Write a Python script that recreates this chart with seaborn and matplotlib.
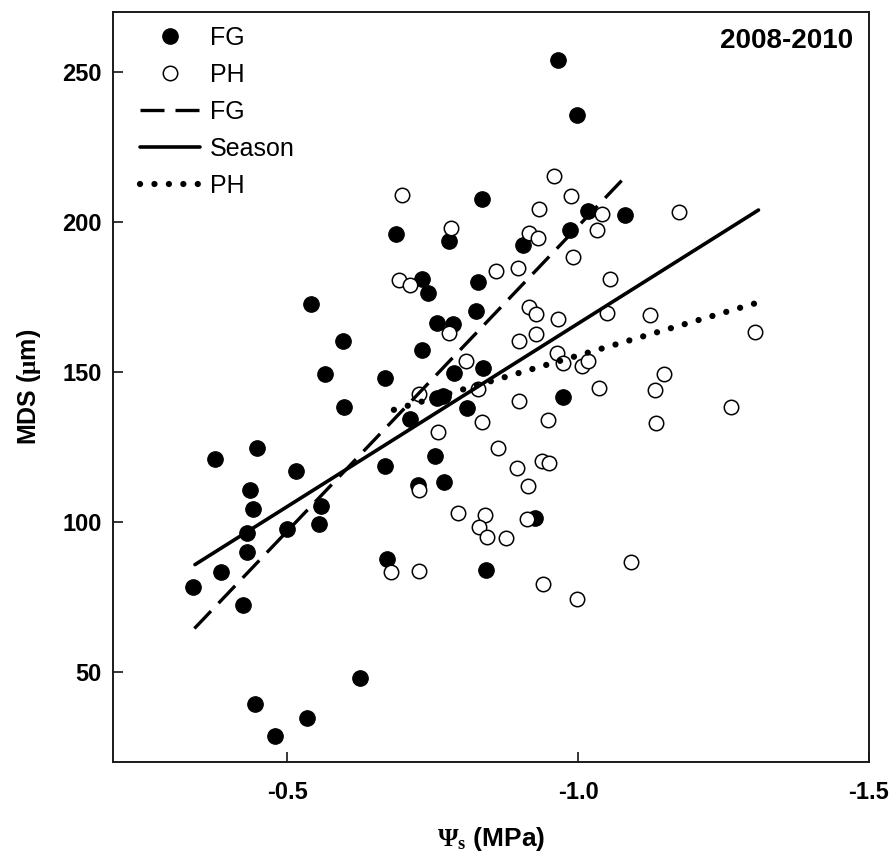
import numpy as np
import pandas as pd
import matplotlib
matplotlib.use("Agg")
import matplotlib.pyplot as plt
from matplotlib.lines import Line2D
import seaborn as sns

# ---- data ----
fg_x = [-0.541, -0.596, -0.564, -0.668, -0.598, -0.448, -0.375, -0.515, -0.668, -0.435,
        -0.440, -0.430, -0.500, -0.557, -0.555, -0.431, -0.385, -0.338, -0.423, -0.672,
        -0.624, -0.445, -0.533, -0.479, -0.835, -0.687, -0.778, -0.905, -1.017, -1.081,
        -0.986, -0.732, -0.742, -0.828, -0.825, -0.758, -0.785, -0.732, -0.787, -0.837,
        -0.974, -0.809, -0.768, -0.758, -0.711, -0.754, -0.725, -0.770, -0.926, -0.842,
        -0.966, -0.998]
fg_y = [172.6, 160.4, 149.5, 147.9, 138.3, 124.7, 121.1, 117.1, 118.8, 110.8,
        104.5, 96.3, 97.6, 105.5, 99.3, 90.0, 83.4, 78.4, 72.5, 87.7,
        48.0, 39.4, 34.8, 28.8, 207.7, 196.1, 193.8, 192.2, 203.7, 202.4,
        197.4, 180.9, 176.3, 179.9, 170.3, 166.4, 166.0, 157.4, 149.8, 151.2,
        141.6, 137.9, 141.9, 141.2, 134.3, 122.1, 112.2, 113.5, 101.2, 84.1,
        254.0, 235.8]

ph_x = [-0.697, -0.958, -0.988, -0.932, -1.041, -1.032, -0.781, -0.916, -0.931, -0.991,
        -0.691, -0.710, -0.859, -0.896, -1.055, -0.915, -0.928, -0.966, -1.049, -1.174,
        -1.123, -1.304, -0.777, -0.899, -0.927, -0.963, -0.974, -1.006, -1.016, -0.807,
        -0.726, -0.828, -1.035, -0.899, -0.835, -0.948, -0.759, -0.862, -0.895, -0.938,
        -0.949, -0.913, -0.726, -0.794, -0.840, -0.830, -0.843, -0.876, -0.912, -0.678,
        -0.727, -0.939, -0.998, -1.091, -1.148, -1.132, -1.263, -1.134]
ph_y = [208.9, 215.3, 208.7, 204.5, 202.6, 197.4, 197.9, 196.2, 194.7, 188.5,
        180.6, 178.9, 183.7, 184.7, 181.1, 171.8, 169.2, 167.7, 169.6, 203.2,
        169.0, 163.5, 163.0, 160.2, 162.7, 156.4, 153.0, 151.9, 153.8, 153.6,
        142.6, 144.2, 144.7, 140.2, 133.2, 134.0, 129.9, 124.7, 118.0, 120.2,
        119.8, 112.1, 110.6, 102.9, 102.3, 98.2, 94.9, 94.6, 101.0, 83.4,
        83.6, 79.4, 74.2, 86.6, 149.2, 144.0, 138.5, 132.9]

# regression lines (end points)
fg_line_x = [-0.340, -1.085]
fg_line_y = [64.5, 215.9]
season_line_x = [-0.341, -1.310]
season_line_y = [85.8, 204.0]
ph_line_x = [-0.683, -1.308]
ph_line_y = [137.4, 173.1]

x_ticks = [-0.5, -1.0, -1.5]
x_tick_labels = ["-0.5", "-1.0", "-1.5"]
y_ticks = [50, 100, 150, 200, 250]
y_tick_labels = ["50", "100", "150", "200", "250"]

panel_label = "2008-2010"
legend_labels = ["FG", "PH", "FG", "Season", "PH"]

# ---- style ----
sns.set_theme(style="ticks")
plt.rcParams["font.family"] = ["Liberation Sans", "DejaVu Sans"]
plt.rcParams["text.color"] = "black"
plt.rcParams["axes.labelcolor"] = "black"
plt.rcParams["mathtext.fontset"] = "custom"
plt.rcParams["mathtext.rm"] = "Liberation Serif"
plt.rcParams["mathtext.bf"] = "Liberation Serif:bold"

fig = plt.figure(figsize=(8.91, 8.66), dpi=100)
ax = fig.add_axes([0.1268, 0.1201, 0.8485, 0.866])

fg_df = pd.DataFrame({"x": fg_x, "y": fg_y})
ph_df = pd.DataFrame({"x": ph_x, "y": ph_y})

sns.scatterplot(data=fg_df, x="x", y="y", ax=ax, color="black", edgecolor="black",
                s=125, linewidth=0.8, zorder=3, legend=False)
sns.scatterplot(data=ph_df, x="x", y="y", ax=ax, facecolor="white", edgecolor="black",
                s=108, linewidth=1.1, zorder=4, legend=False)

sns.lineplot(x=fg_line_x, y=fg_line_y, ax=ax, color="black", lw=2.4,
             linestyle=(0, (7.2, 3.3)), zorder=5, sort=False)
sns.lineplot(x=season_line_x, y=season_line_y, ax=ax, color="black", lw=2.6,
             zorder=5, sort=False)
sns.lineplot(x=ph_line_x, y=ph_line_y, ax=ax, color="black", lw=4.5,
             linestyle=(0, (0.01, 2.3)), zorder=5, sort=False)
ax.lines[-1].set_dash_capstyle("round")

ax.set_xlim(-0.2, -1.5)
ax.set_ylim(20, 270)
ax.set_xticks(x_ticks)
ax.set_xticklabels(x_tick_labels)
ax.set_yticks(y_ticks)
ax.set_yticklabels(y_tick_labels)
ax.tick_params(direction="in", length=7, width=1.1, labelsize=17, colors="black")
ax.tick_params(axis="x", pad=14)
ax.tick_params(axis="y", pad=8)
for lab in ax.get_xticklabels() + ax.get_yticklabels():
    lab.set_fontweight("bold")
for sp in ax.spines.values():
    sp.set_linewidth(1.4)
    sp.set_color("#1a1a1a")

ax.set_xlabel(r"$\mathbf{\Psi_s}$ (MPa)", fontsize=19, fontweight="bold", labelpad=15)
ax.set_ylabel(r"MDS ($\mathbf{\mu}$m)", fontsize=18, fontweight="bold", labelpad=14)

ax.text(0.979, 0.962, panel_label, transform=ax.transAxes, ha="right", va="center",
        fontsize=20, fontweight="bold", color="black")

handles = [
    Line2D([], [], marker="o", linestyle="none", markerfacecolor="black",
           markeredgecolor="black", markersize=11),
    Line2D([], [], marker="o", linestyle="none", markerfacecolor="white",
           markeredgecolor="black", markersize=10.4, markeredgewidth=1.1),
    Line2D([], [], color="black", lw=2.4, linestyle=(0, (7.2, 3.3))),
    Line2D([], [], color="black", lw=2.6),
    Line2D([], [], color="black", lw=4.5, linestyle=(0, (0.01, 2.3)),
           dash_capstyle="round"),
]
leg = ax.legend(handles, legend_labels, loc="upper left", bbox_to_anchor=(0.016, 1.002),
                frameon=False, fontsize=18, handlelength=2.4, handletextpad=0.4,
                labelspacing=0.52, borderaxespad=0.2, labelcolor="black")

fig.savefig("out.png", dpi=100, facecolor="white")
